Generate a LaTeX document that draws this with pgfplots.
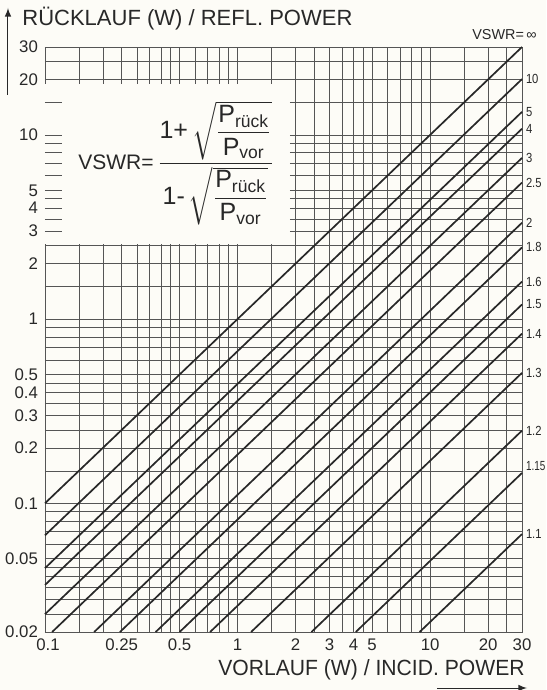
\documentclass[border=0pt]{standalone}
\usepackage{amsmath}
\usepackage{graphicx}
\usepackage{fontspec}
\setmainfont{Liberation Sans}
\usepackage{pgfplots}
\pgfplotsset{compat=1.18}
\definecolor{bgc}{RGB}{253,252,247}
\definecolor{inkc}{RGB}{40,40,40}
\definecolor{gridc}{RGB}{85,85,85}
\tikzset{vs/.style={draw=inkc, solid, line width=0.85pt, mark=none}}
\newcommand{\rl}[1]{\scalebox{0.85}[1]{#1}}

\begin{document}
\begin{tikzpicture}
\path[use as bounding box, fill=bgc] (-22.5pt,-29pt) rectangle (250.5pt,316pt);
\begin{axis}[
  scale only axis,
  width=238.5pt, height=292.5pt,
  xmode=log, ymode=log,
  xmin=0.1, xmax=30, ymin=0.02, ymax=30,
  clip=false,
  xtick={0.1,0.25,0.5,1,2,3,4,5,10,20,30},
  xticklabels={\hspace*{3pt}0.1,0.25,0.5,1,2,3,4,5,10,20,30},
  minor xtick={0.15,0.2,0.3,0.35,0.4,0.45,0.6,0.7,0.8,0.9,1.5,2.5,3.5,4.5,6,7,8,9,15,25},
  ytick={0.02,0.05,0.1,0.2,0.3,0.4,0.5,1,2,3,4,5,10,20,30},
  yticklabels={\raisebox{-4pt}{0.02},0.05,0.1,0.2,0.3,0.4,0.5,1,2,3,4,5,10,20,30},
  minor ytick={0.025,0.03,0.035,0.04,0.045,0.06,0.07,0.08,0.09,0.15,0.25,0.35,0.45,0.6,0.7,0.8,0.9,1.5,2.5,3.5,4.5,6,7,8,9,15,25},
  grid=both,
  major grid style={line width=0.3pt, draw=gridc},
  minor grid style={line width=0.3pt, draw=gridc},
  major tick length=0pt, minor tick length=0pt,
  axis line style={line width=0.45pt, draw=gridc},
  ticklabel style={font=\fontsize{8.4}{10}\selectfont, text=inkc},
]
% formula box over the grid
\fill[bgc] (axis cs:0.097,18.9) rectangle (axis cs:1.87,2.56);
\pgfplotsinvokeforeach{15,10,9,8,7,6,5,4.5,4,3.5,3}{
  \draw[line width=0.3pt, gridc] (axis cs:0.1,#1) -- (axis cs:0.1225,#1);
  \draw[line width=0.3pt, gridc] (axis cs:1.87,#1) -- (axis cs:2,#1);
}
\node[text=inkc, inner sep=0pt] at (axis cs:0.48,7.0) {\fontsize{10.5}{13}\selectfont VSWR=\,\fontsize{12.5}{15}\selectfont$\dfrac{\text{1+}\,\sqrt{\dfrac{\text{P}_{\text{rück}}}{\text{P}_{\text{vor}}}}}{\text{1-}\,\sqrt{\dfrac{\text{P}_{\text{rück}}}{\text{P}_{\text{vor}}}}}$};

% VSWR = inf
\addplot[vs] coordinates {(0.1,0.1) (30,30)};
% 10
\addplot[vs] coordinates {(0.1,0.066942) (30,20.083)};
% 5
\addplot[vs] coordinates {(0.1,0.044444) (30,13.333)};
% 4
\addplot[vs] coordinates {(0.1,0.036) (30,10.8)};
% 3
\addplot[vs] coordinates {(0.1,0.025) (30,7.5)};
% 2.5
\addplot[vs] coordinates {(0.10889,0.02) (30,5.5102)};
% 2
\addplot[vs] coordinates {(0.18,0.02) (30,3.3333)};
% 1.8
\addplot[vs] coordinates {(0.245,0.02) (30,2.449)};
% 1.6
\addplot[vs] coordinates {(0.37556,0.02) (30,1.5976)};
% 1.5
\addplot[vs] coordinates {(0.5,0.02) (30,1.2)};
% 1.4
\addplot[vs] coordinates {(0.72,0.02) (30,0.83333)};
% 1.3
\addplot[vs] coordinates {(1.1756,0.02) (30,0.5104)};
% 1.2
\addplot[vs] coordinates {(2.42,0.02) (30,0.24793)};
% 1.15
\addplot[vs] coordinates {(4.1089,0.02) (30,0.14602)};
% 1.1
\addplot[vs] coordinates {(8.82,0.02) (30,0.068027)};

\begin{scope}[every node/.style={anchor=west, inner sep=0pt, xshift=1.8pt, text=inkc, font=\fontsize{6.6}{8}\selectfont}]
\node at (axis cs:30,20.083) {\rl{10}};
\node at (axis cs:30,13.333) {\rl{5}};
\node at (axis cs:30,10.8) {\rl{4}};
\node at (axis cs:30,7.5) {\rl{3}};
\node at (axis cs:30,5.5102) {\rl{2.5}};
\node at (axis cs:30,3.3333) {\rl{2}};
\node at (axis cs:30,2.449) {\rl{1.8}};
\node at (axis cs:30,1.5976) {\rl{1.6}};
\node at (axis cs:30,1.2) {\rl{1.5}};
\node at (axis cs:30,0.83333) {\rl{1.4}};
\node at (axis cs:30,0.5104) {\rl{1.3}};
\node at (axis cs:30,0.24793) {\rl{1.2}};
\node[yshift=3.5pt] at (axis cs:30,0.14602) {\scalebox{0.75}[1]{1.15}};
\node at (axis cs:30,0.068027) {\rl{1.1}};
\end{scope}
\end{axis}

% outer labels
\node[anchor=base east, inner sep=0pt, text=inkc, font=\fontsize{7.2}{8}\selectfont] at (246pt,296pt) {VSWR=\,∞};
\node[anchor=base west, inner sep=0pt, text=inkc, font=\fontsize{11}{12}\selectfont] at (-11.5pt,303pt) {RÜCKLAUF (W) / REFL. POWER};
\draw[line width=0.5pt, inkc, -latex] (-18.5pt,268.5pt) -- (-18.5pt,312pt);
\node[anchor=base east, inner sep=0pt, text=inkc, font=\fontsize{11}{12}\selectfont] at (240pt,-22pt) {\scalebox{0.96}[1]{VORLAUF (W) / INCID. POWER}};
\draw[line width=0.5pt, inkc, -latex] (196pt,-28pt) -- (241pt,-28pt);
\end{tikzpicture}
\end{document}
